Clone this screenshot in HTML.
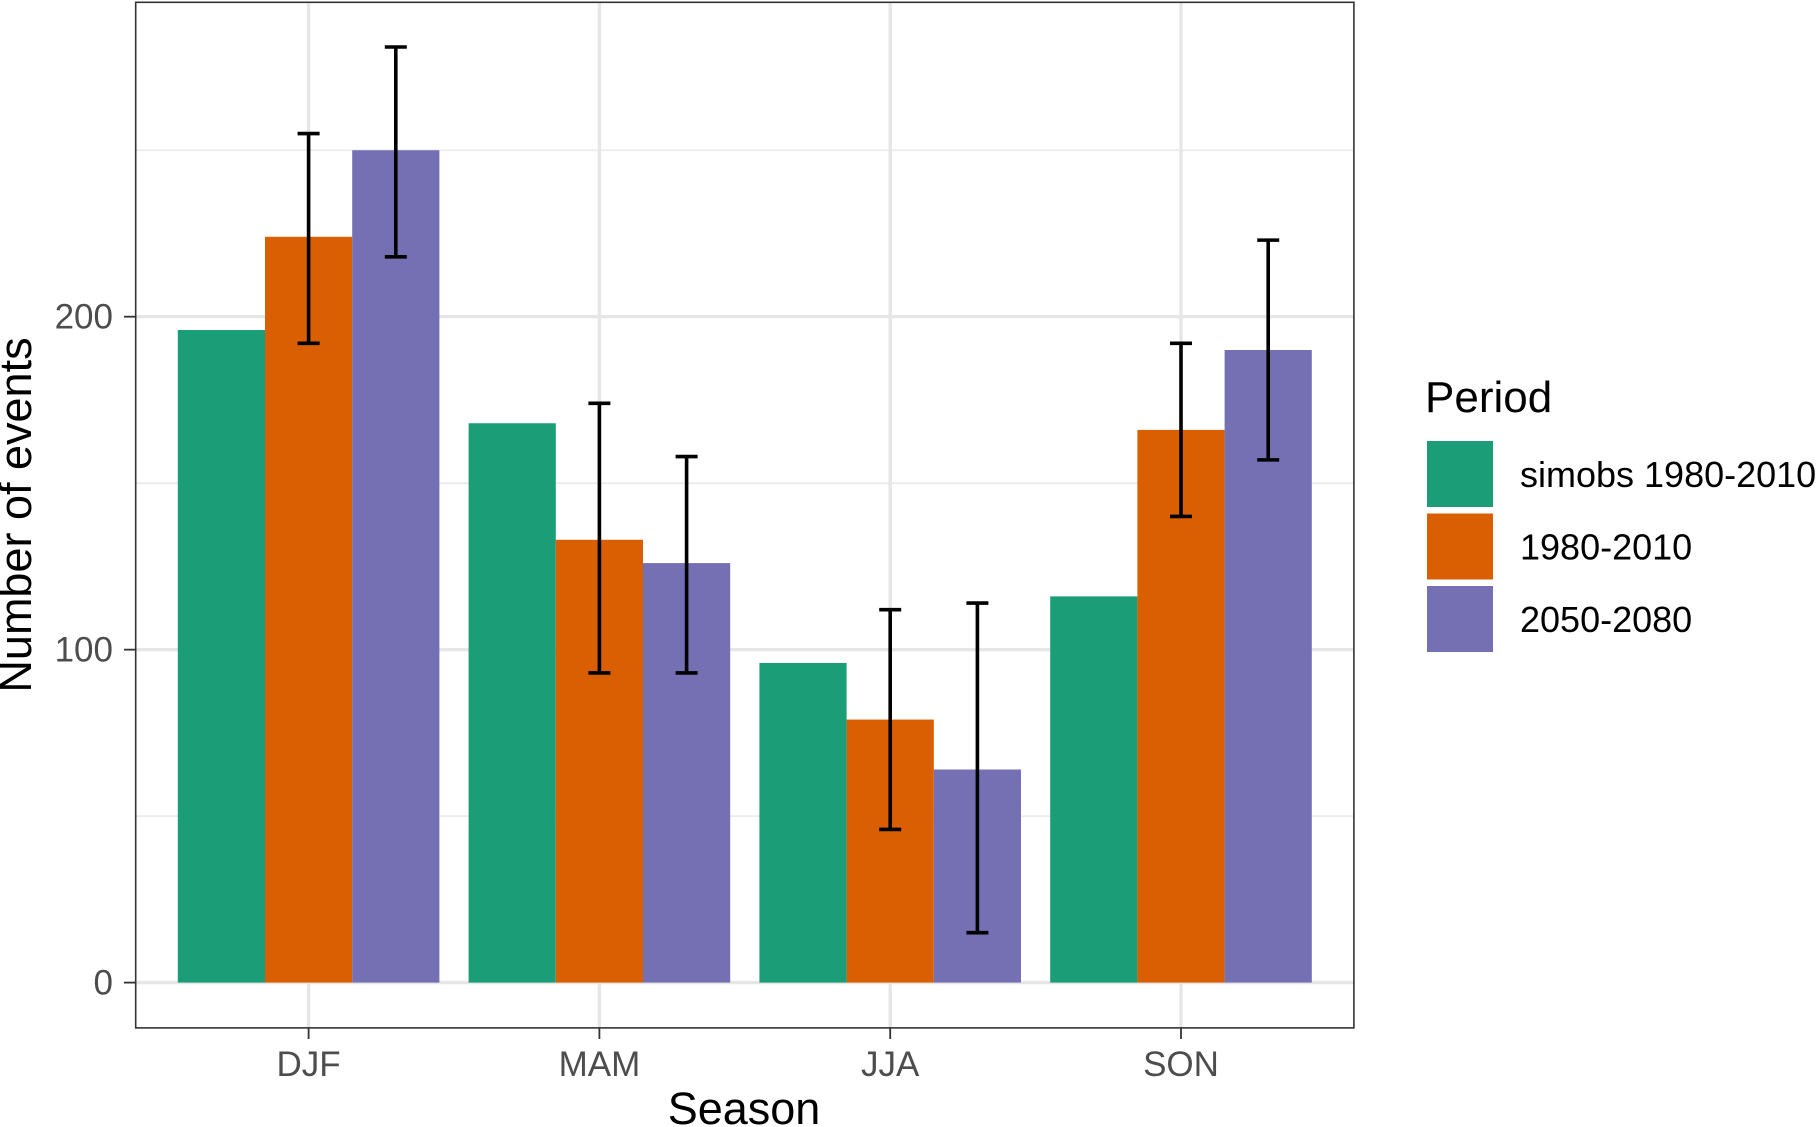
<!DOCTYPE html>
<html><head><meta charset="utf-8"><style>html,body{margin:0;padding:0;background:#fff}svg{display:block}text{font-family:"Liberation Sans",Arial,sans-serif}</style></head>
<body>
<svg id="chart" width="1819" height="1127" viewBox="0 0 1819 1127" xmlns="http://www.w3.org/2000/svg">
<g id="grid"></g><g id="bars"></g><g id="errs"></g>
<rect x="135.7" y="2.3" width="1218.2" height="1025.6" fill="none" stroke="#333" stroke-width="1.6"/>
<g id="axes"></g>
<text x="744" y="1124" font-size="45" text-anchor="middle" fill="#000">Season</text>
<text transform="translate(19,515) rotate(-90)" font-size="45" text-anchor="middle" dominant-baseline="middle" fill="#000">Number of events</text>
<g id="legend">
<text x="1425" y="412" font-size="44" fill="#000">Period</text>
</g>
</svg>
<script>
const categories = ["DJF","MAM","JJA","SON"];
const seriesNames = ["simobs 1980-2010","1980-2010","2050-2080"];
const simobs = [196,168,96,116];
const obs = [224,133,79,166];
const future = [250,126,64,190];
const obsLow = [192,93,46,140];
const obsHigh = [255,174,112,192];
const futLow = [218,93,15,157];
const futHigh = [281,158,114,223];
const yTicks = [0,100,200];
const yMinor = [50,150,250];
const colors = ["#1b9e77","#d95f02","#7570b3"];
const NS="http://www.w3.org/2000/svg";
const L=135.7,R=1353.9,T=2.3,B=1027.9;
const y=v=>982.6-v*3.3295;
const xc=i=>308.6+i*290.8;
const bw=87.2;
function mk(tag,attrs,parent){const e=document.createElementNS(NS,tag);for(const k in attrs)e.setAttribute(k,attrs[k]);document.getElementById(parent).appendChild(e);return e;}
yMinor.forEach(v=>{const e=mk('line',{x1:L,x2:R,y1:y(v),y2:y(v),stroke:'#ebebeb','stroke-width':1.8},'grid');

});
yTicks.forEach(v=>{const e=mk('line',{x1:L,x2:R,y1:y(v),y2:y(v),stroke:'#e6e6e6','stroke-width':3.4},'grid');


const t=mk('line',{x1:124,x2:L,y1:y(v),y2:y(v),stroke:'#333','stroke-width':1.8},'axes');


const l=mk('text',{x:113,y:y(v)+12,'font-size':35,'text-anchor':'end',fill:'#4d4d4d'},'axes');l.textContent=v;

});
categories.forEach((c,i)=>{const g=mk('line',{x1:xc(i),x2:xc(i),y1:T,y2:B,stroke:'#e6e6e6','stroke-width':3.4},'grid');


const t=mk('line',{x1:xc(i),x2:xc(i),y1:B,y2:1039,stroke:'#333','stroke-width':1.8},'axes');


const l=mk('text',{x:xc(i),y:1076,'font-size':35,'text-anchor':'middle',fill:'#4d4d4d'},'axes');l.textContent=c;


[simobs,obs,future].forEach((s,j)=>{const bx=xc(i)+(j-1.5)*bw;
const b=mk('rect',{x:bx,y:y(s[i]),width:bw,height:y(0)-y(s[i]),fill:colors[j]},'bars');

});
[[obsLow,obsHigh,0],[futLow,futHigh,1]].forEach(([lo,hi,k])=>{const cx=xc(i)+k*bw;
const e=mk('path',{d:`M${cx-11},${y(hi[i])}H${cx+11}M${cx},${y(hi[i])}V${y(lo[i])}M${cx-11},${y(lo[i])}H${cx+11}`,stroke:'#000','stroke-width':3.6,fill:'none'},'errs');

});});
seriesNames.forEach((n,j)=>{const ky=441+j*72.5;
const r=mk('rect',{x:1427,y:ky,width:66,height:66,fill:colors[j]},'legend');


const t=mk('text',{x:1520,y:ky+46,'font-size':36,fill:'#000'},'legend');t.textContent=n;

});
</script>
</body></html>
